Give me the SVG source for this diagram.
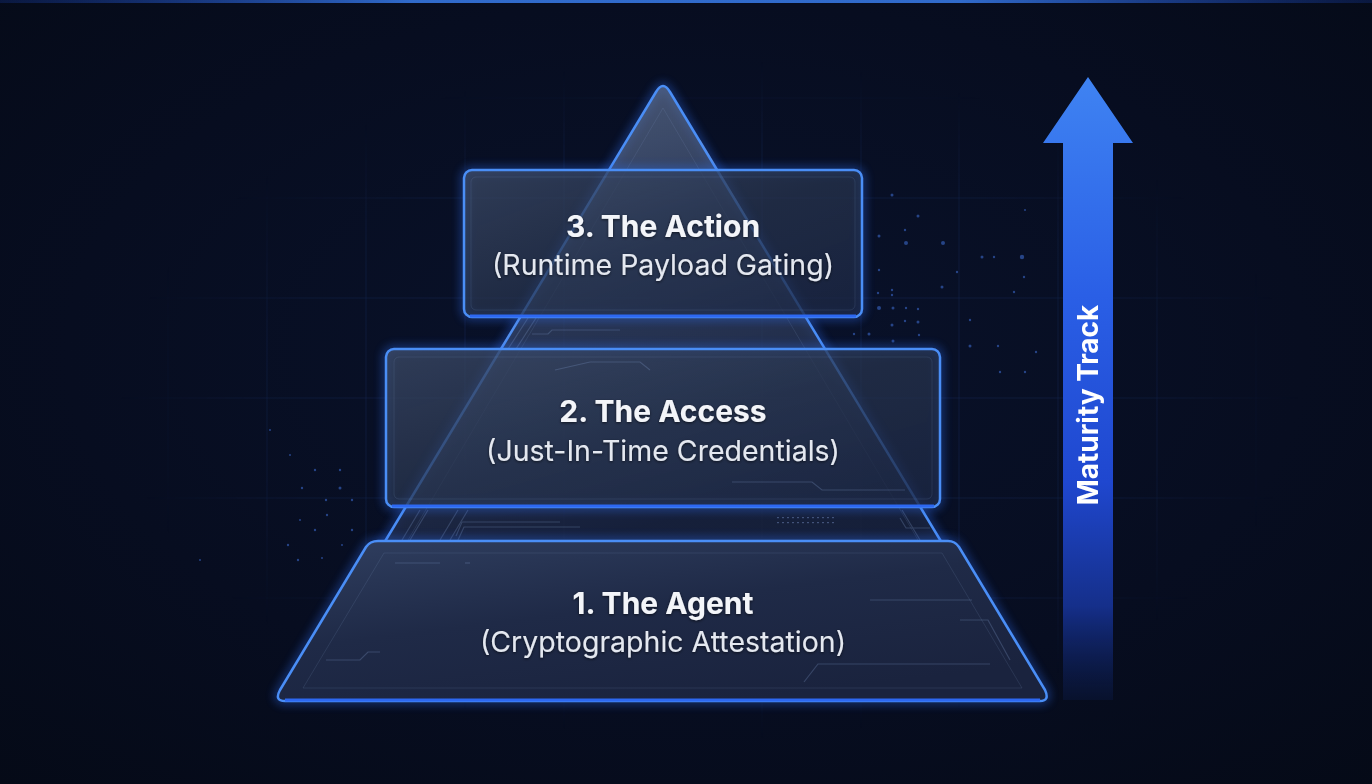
<svg xmlns="http://www.w3.org/2000/svg" width="1372" height="784" viewBox="0 0 1372 784">
  <defs>
    <radialGradient id="bgGrad" cx="0.5" cy="0.45" r="0.75">
      <stop offset="0" stop-color="#09122b"/>
      <stop offset="0.6" stop-color="#070d20"/>
      <stop offset="1" stop-color="#050a17"/>
    </radialGradient>
    <linearGradient id="topLine" x1="0" y1="0" x2="1" y2="0">
      <stop offset="0" stop-color="#1d4ed8" stop-opacity="0.2"/>
      <stop offset="0.3" stop-color="#3b82f6" stop-opacity="0.8"/>
      <stop offset="0.7" stop-color="#3b82f6" stop-opacity="0.8"/>
      <stop offset="1" stop-color="#1d4ed8" stop-opacity="0.2"/>
    </linearGradient>
    <radialGradient id="gridFade" cx="0.5" cy="0.5" r="0.5">
      <stop offset="0" stop-color="#fff" stop-opacity="1"/>
      <stop offset="0.75" stop-color="#fff" stop-opacity="0.7"/>
      <stop offset="1" stop-color="#fff" stop-opacity="0"/>
    </radialGradient>
    <mask id="gridMask">
      <rect x="120" y="60" width="1180" height="680" fill="url(#gridFade)"/>
    </mask>
    <linearGradient id="triFill" x1="0" y1="0" x2="0.3" y2="1">
      <stop offset="0" stop-color="#6a7c9e" stop-opacity="0.75"/>
      <stop offset="0.45" stop-color="#3a4a6c" stop-opacity="0.7"/>
      <stop offset="1" stop-color="#18223d" stop-opacity="0.9"/>
    </linearGradient>
    <linearGradient id="boxFill" x1="0" y1="0" x2="1" y2="1">
      <stop offset="0" stop-color="#3c4a66" stop-opacity="0.78"/>
      <stop offset="0.5" stop-color="#28354f" stop-opacity="0.72"/>
      <stop offset="1" stop-color="#1b2643" stop-opacity="0.8"/>
    </linearGradient>
    <linearGradient id="baseFill" x1="0" y1="0" x2="0.6" y2="1">
      <stop offset="0" stop-color="#303f60"/>
      <stop offset="0.5" stop-color="#1f2a47"/>
      <stop offset="1" stop-color="#1a233e"/>
    </linearGradient>
    <linearGradient id="arrowGrad" x1="0" y1="0" x2="0" y2="1">
      <stop offset="0" stop-color="#3f83f2"/>
      <stop offset="0.35" stop-color="#2a5fe6"/>
      <stop offset="0.65" stop-color="#1f47cf"/>
      <stop offset="0.85" stop-color="#152f8a"/>
      <stop offset="1" stop-color="#0a1638" stop-opacity="0.6"/>
    </linearGradient>
    <filter id="softGlow" x="-20%" y="-20%" width="140%" height="140%">
      <feGaussianBlur stdDeviation="5"/>
    </filter>
    <filter id="textShadow" x="-10%" y="-30%" width="120%" height="160%">
      <feDropShadow dx="0" dy="1" stdDeviation="1.5" flood-color="#000" flood-opacity="0.6"/>
    </filter>
  </defs>
  <style>
    .grid line { stroke: #1a2f5c; stroke-width: 1; opacity: 0.5; }
    .dot { fill: #3a68c8; opacity: 0.6; }
    .edge { fill: none; stroke: #4a8ef6; stroke-width: 2.5; stroke-linejoin: round; }
    .edgeGlow { fill: none; stroke: #2f6cf0; stroke-width: 7; opacity: 0.45; }
    .bevel { fill: none; stroke: #8aa4d0; stroke-width: 1; opacity: 0.14; }
    .circuit { fill: none; stroke: #7f99c8; stroke-width: 1.2; opacity: 0.28; }
    .title { font-family: Inter, "Liberation Sans", sans-serif; font-weight: 700; font-size: 30px; fill: #f3f5f9; text-anchor: middle; }
    .sub { font-family: Inter, "Liberation Sans", sans-serif; font-weight: 400; font-size: 28.5px; fill: #e4e8f0; text-anchor: middle; }
    .track { font-family: Inter, "Liberation Sans", sans-serif; font-weight: 700; font-size: 28px; fill: #ffffff; text-anchor: middle; }
  </style>

  <!-- background -->
  <rect x="0" y="0" width="1372" height="784" fill="url(#bgGrad)"/>
  <rect x="0" y="0" width="1372" height="3" fill="url(#topLine)"/>

  <!-- grid -->
  <g class="grid" mask="url(#gridMask)">
    <line x1="168" y1="60" x2="168" y2="740"/>
    <line x1="267" y1="60" x2="267" y2="740"/>
    <line x1="366" y1="60" x2="366" y2="740"/>
    <line x1="465" y1="60" x2="465" y2="740"/>
    <line x1="564" y1="60" x2="564" y2="740"/>
    <line x1="762" y1="60" x2="762" y2="740"/>
    <line x1="861" y1="60" x2="861" y2="740"/>
    <line x1="959" y1="60" x2="959" y2="740"/>
    <line x1="1058" y1="60" x2="1058" y2="740"/>
    <line x1="1157" y1="60" x2="1157" y2="740"/>
    <line x1="1256" y1="60" x2="1256" y2="740"/>
    <line x1="120" y1="98" x2="1300" y2="98"/>
    <line x1="120" y1="198" x2="1300" y2="198"/>
    <line x1="120" y1="298" x2="1300" y2="298"/>
    <line x1="120" y1="398" x2="1300" y2="398"/>
    <line x1="120" y1="498" x2="1300" y2="498"/>
    <line x1="120" y1="598" x2="1300" y2="598"/>
    <line x1="120" y1="698" x2="1300" y2="698"/>
  </g>

  <!-- particles -->
  <g id="particles">
    <circle class="dot" cx="892" cy="195" r="1.5"/>
    <circle class="dot" cx="918" cy="216" r="1.5"/>
    <circle class="dot" cx="905" cy="230" r="1.2"/>
    <circle class="dot" cx="879" cy="236" r="1.5"/>
    <circle class="dot" cx="906" cy="243" r="2"/>
    <circle class="dot" cx="943" cy="243" r="2"/>
    <circle class="dot" cx="982" cy="257" r="1.5"/>
    <circle class="dot" cx="994" cy="257" r="1.2"/>
    <circle class="dot" cx="1022" cy="257" r="2.2"/>
    <circle class="dot" cx="1024" cy="277" r="1.2"/>
    <circle class="dot" cx="879" cy="270" r="1.2"/>
    <circle class="dot" cx="892" cy="290" r="1.2"/>
    <circle class="dot" cx="942" cy="287" r="1.5"/>
    <circle class="dot" cx="957" cy="272" r="1.2"/>
    <circle class="dot" cx="893" cy="308" r="1.5"/>
    <circle class="dot" cx="878" cy="293" r="1.2"/>
    <circle class="dot" cx="892" cy="295" r="1.2"/>
    <circle class="dot" cx="906" cy="308" r="1.2"/>
    <circle class="dot" cx="879" cy="308" r="2"/>
    <circle class="dot" cx="892" cy="325" r="1.5"/>
    <circle class="dot" cx="918" cy="309" r="1.2"/>
    <circle class="dot" cx="918" cy="322" r="1.5"/>
    <circle class="dot" cx="919" cy="335" r="1.2"/>
    <circle class="dot" cx="905" cy="321" r="1.2"/>
    <circle class="dot" cx="893" cy="341" r="1.5"/>
    <circle class="dot" cx="869" cy="334" r="1.5"/>
    <circle class="dot" cx="854" cy="334" r="1.2"/>
    <circle class="dot" cx="970" cy="320" r="1.2"/>
    <circle class="dot" cx="970" cy="346" r="1.5"/>
    <circle class="dot" cx="998" cy="346" r="1.2"/>
    <circle class="dot" cx="1000" cy="372" r="1.2"/>
    <circle class="dot" cx="1025" cy="372" r="1.2"/>
    <circle class="dot" cx="1036" cy="352" r="1.2"/>
    <circle class="dot" cx="1014" cy="292" r="1.2"/>
    <circle class="dot" cx="1025" cy="210" r="1"/>
    <circle class="dot" cx="302" cy="488" r="1.2"/>
    <circle class="dot" cx="315" cy="470" r="1.2"/>
    <circle class="dot" cx="326" cy="500" r="1.2"/>
    <circle class="dot" cx="340" cy="470" r="1.2"/>
    <circle class="dot" cx="340" cy="488" r="1.5"/>
    <circle class="dot" cx="352" cy="500" r="1.2"/>
    <circle class="dot" cx="327" cy="515" r="1.2"/>
    <circle class="dot" cx="315" cy="530" r="1.2"/>
    <circle class="dot" cx="352" cy="530" r="1.2"/>
    <circle class="dot" cx="300" cy="520" r="1"/>
    <circle class="dot" cx="288" cy="545" r="1.2"/>
    <circle class="dot" cx="298" cy="560" r="1.2"/>
    <circle class="dot" cx="322" cy="558" r="1"/>
    <circle class="dot" cx="342" cy="545" r="1"/>
    <circle class="dot" cx="270" cy="430" r="1"/>
    <circle class="dot" cx="290" cy="455" r="1"/>
    <circle class="dot" cx="200" cy="560" r="1"/>
  </g>

  <!-- pyramid back triangle -->
  <g id="pyramid">
    <path class="edgeGlow" d="M 656,92 Q 663,80 670,92 L 945,548 L 381,548 Z" filter="url(#softGlow)"/>
    <path d="M 656,92 Q 663,80 670,92 L 945,548 L 381,548 Z" fill="url(#triFill)"/>
    <path class="bevel" d="M 663,108 L 918,540 L 408,540 Z"/>
    <path class="edge" d="M 381,548 L 656,92 Q 663,80 670,92 L 945,548"/>
    <g class="circuit">
      <line x1="520" y1="318" x2="500" y2="349"/>
      <line x1="528" y1="318" x2="508" y2="349"/>
      <line x1="536" y1="318" x2="516" y2="349"/>
      <line x1="420" y1="510" x2="402" y2="540"/>
      <line x1="428" y1="510" x2="410" y2="540"/>
      <line x1="458" y1="510" x2="440" y2="540"/>
      <line x1="468" y1="510" x2="450" y2="540"/>
      <polyline points="458,540 464,527 580,527"/>
      <polyline points="456,536 462,522 560,522"/>
      <line x1="700" y1="140" x2="760" y2="240"/>
      <polyline points="532,334 548,334 552,330 620,330"/>
      <polyline points="900,518 906,528 930,528"/>
      <line x1="902" y1="510" x2="920" y2="540"/>
    </g>
    <g fill="#6f87b8" opacity="0.5">
      <rect x="777" y="517" width="2" height="1.2"/>
      <rect x="782" y="517" width="2" height="1.2"/>
      <rect x="787" y="517" width="2" height="1.2"/>
      <rect x="792" y="517" width="2" height="1.2"/>
      <rect x="797" y="517" width="2" height="1.2"/>
      <rect x="802" y="517" width="2" height="1.2"/>
      <rect x="807" y="517" width="2" height="1.2"/>
      <rect x="812" y="517" width="2" height="1.2"/>
      <rect x="817" y="517" width="2" height="1.2"/>
      <rect x="822" y="517" width="2" height="1.2"/>
      <rect x="827" y="517" width="2" height="1.2"/>
      <rect x="832" y="517" width="2" height="1.2"/>
      <rect x="777" y="522" width="2" height="1.2"/>
      <rect x="782" y="522" width="2" height="1.2"/>
      <rect x="787" y="522" width="2" height="1.2"/>
      <rect x="792" y="522" width="2" height="1.2"/>
      <rect x="797" y="522" width="2" height="1.2"/>
      <rect x="802" y="522" width="2" height="1.2"/>
      <rect x="807" y="522" width="2" height="1.2"/>
      <rect x="812" y="522" width="2" height="1.2"/>
      <rect x="817" y="522" width="2" height="1.2"/>
      <rect x="822" y="522" width="2" height="1.2"/>
      <rect x="827" y="522" width="2" height="1.2"/>
      <rect x="832" y="522" width="2" height="1.2"/>
    </g>
  </g>

  <!-- Tier 1 -->
  <g id="tier1">
    <path class="edgeGlow" d="M 378,541 L 948,541 Q 955,541 959,547 L 1045,690 Q 1050,701 1040,701 L 285,701 Q 274,701 280,690 L 366,547 Q 370,541 378,541 Z" filter="url(#softGlow)"/>
    <path d="M 378,541 L 948,541 Q 955,541 959,547 L 1045,690 Q 1050,701 1040,701 L 285,701 Q 274,701 280,690 L 366,547 Q 370,541 378,541 Z" fill="url(#baseFill)"/>
    <path class="bevel" d="M 384,553 L 942,553 L 1022,688 L 303,688 Z"/>
    <g class="circuit">
      <polyline points="395,563 440,563"/>
      <polyline points="465,563 470,563"/>
      <polyline points="326,660 360,660 368,652 380,652"/>
      <polyline points="804,682 818,664 990,664"/>
      <polyline points="870,600 972,600"/>
      <polyline points="960,620 988,620 1010,660"/>
    </g>
    <path class="edge" d="M 378,541 L 948,541 Q 955,541 959,547 L 1045,690 Q 1050,701 1040,701 L 285,701 Q 274,701 280,690 L 366,547 Q 370,541 378,541 Z"/>
    <line x1="285" y1="700" x2="1040" y2="700" stroke="#2d68f2" stroke-width="3"/>
    <text class="title" x="663" y="614" filter="url(#textShadow)">1. The Agent</text>
    <text class="sub" x="663" y="652" filter="url(#textShadow)">(Cryptographic Attestation)</text>
  </g>

  <!-- Tier 2 -->
  <g id="tier2">
    <rect x="386" y="349" width="554" height="158" rx="8" class="edgeGlow" filter="url(#softGlow)"/>
    <rect x="386" y="349" width="554" height="158" rx="8" fill="url(#boxFill)"/>
    <rect x="394" y="357" width="538" height="142" rx="5" class="bevel"/>
    <g class="circuit">
      <polyline points="732,482 812,482 822,490 905,490"/>
      <polyline points="555,370 590,362 640,362 650,370"/>
    </g>
    <rect x="386" y="349" width="554" height="158" rx="8" class="edge"/>
    <line x1="392" y1="506" x2="934" y2="506" stroke="#2d68f2" stroke-width="3"/>
    <text class="title" x="663" y="422" filter="url(#textShadow)">2. The Access</text>
    <text class="sub" x="663" y="461" filter="url(#textShadow)">(Just-In-Time Credentials)</text>
  </g>

  <!-- Tier 3 -->
  <g id="tier3">
    <rect x="464" y="170" width="398" height="147" rx="8" class="edgeGlow" filter="url(#softGlow)"/>
    <rect x="464" y="170" width="398" height="147" rx="8" fill="url(#boxFill)"/>
    <rect x="471" y="177" width="384" height="133" rx="5" class="bevel"/>
    <rect x="464" y="170" width="398" height="147" rx="8" class="edge"/>
    <line x1="470" y1="316" x2="856" y2="316" stroke="#2d68f2" stroke-width="3"/>
    <text class="title" x="663" y="237" filter="url(#textShadow)">3. The Action</text>
    <text class="sub" x="663" y="275" filter="url(#textShadow)">(Runtime Payload Gating)</text>
  </g>

  <!-- Maturity arrow -->
  <g id="maturity-arrow">
    <path d="M 1088,77 L 1133,143 L 1113,143 L 1113,700 L 1063,700 L 1063,143 L 1043,143 Z" fill="url(#arrowGrad)"/>
    <text class="track" transform="translate(1098,405) rotate(-90)">Maturity Track</text>
  </g>
</svg>
